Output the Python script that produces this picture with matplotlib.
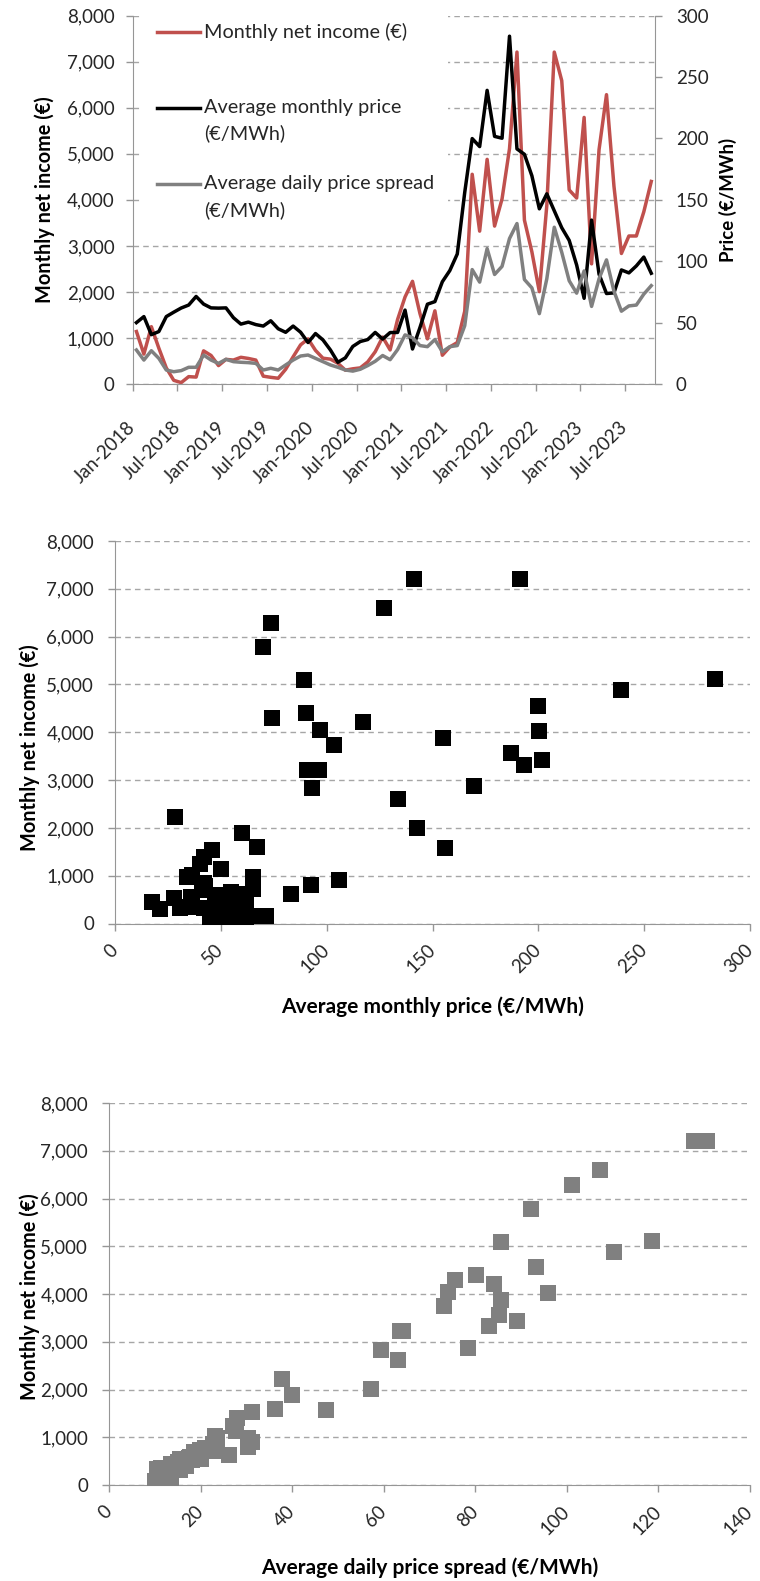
import numpy as np
import matplotlib
matplotlib.use("Agg")
import matplotlib.pyplot as plt
from matplotlib.lines import Line2D
from matplotlib.patches import Rectangle
from matplotlib.ticker import FuncFormatter

plt.rcParams['font.family'] = ['Lato', 'DejaVu Sans']

# Monthly series, Jan-2018 .. Oct-2023
price = [50.0, 54.9, 40.2, 42.7, 54.9, 58.5, 61.9, 64.3, 71.3, 65.1, 62.0, 61.8,
         62.0, 54.0, 48.8, 50.4, 48.4, 47.2, 51.5, 45.0, 42.1, 47.2, 42.2, 33.8,
         41.1, 35.9, 27.7, 17.7, 21.3, 30.6, 34.6, 36.2, 42.0, 36.6, 41.9, 42.0,
         60.2, 28.5, 46.0, 65.0, 67.1, 83.3, 92.4, 105.9, 156.1, 199.9, 193.4, 239.2,
         201.7, 200.2, 283.3, 191.5, 187.1, 169.6, 142.7, 154.9, 141.1, 127.3, 117.0, 96.9,
         69.8, 133.5, 89.5, 73.7, 74.2, 92.9, 90.5, 96.2, 103.4, 90.2]

income = [1140, 650, 1245, 780, 350, 80, 30, 160, 150, 720, 620, 400,
          535, 520, 580, 555, 520, 170, 145, 125, 320, 590, 850, 980,
          730, 560, 540, 450, 300, 330, 350, 480, 700, 1020, 740, 1400,
          1890, 2230, 1530, 980, 1590, 625, 805, 900, 1580, 4555, 3320, 4880,
          3430, 4020, 5110, 7210, 3560, 2870, 2005, 3880, 7210, 6590, 4215, 4040,
          5790, 2610, 5090, 6285, 4295, 2835, 3215, 3215, 3740, 4400]

spread = [27.7, 19.5, 27.1, 20.9, 11.4, 10.0, 10.9, 13.6, 13.6, 23.6, 19.5, 16.8,
          20.1, 18.2, 17.7, 17.4, 16.8, 11.4, 12.8, 11.4, 15.5, 19.5, 22.8, 23.6,
          20.9, 18.2, 15.5, 13.6, 11.4, 10.5, 12.0, 15.0, 18.5, 23.2, 19.8, 28.0,
          40.0, 37.7, 31.3, 30.4, 36.2, 26.3, 30.4, 31.3, 47.5, 93.2, 83.0, 110.3,
          89.2, 95.8, 118.5, 130.7, 85.1, 78.3, 57.3, 85.7, 127.7, 107.3, 84.1, 74.0,
          92.1, 63.2, 85.7, 101.1, 75.6, 59.3, 63.6, 64.3, 73.2, 80.1]

date_ticks = ['Jan-2018', 'Jul-2018', 'Jan-2019', 'Jul-2019', 'Jan-2020', 'Jul-2020',
              'Jan-2021', 'Jul-2021', 'Jan-2022', 'Jul-2022', 'Jan-2023', 'Jul-2023']

RED = '#C0504D'
GREY = '#808080'
AXC = '#969696'
GRIDC = '#A6A6A6'
TXT = '#262626'
FS = 13.5        # tick labels
FS_LEG = 14.3    # legend text
FS_LAB = 14.3    # axis titles

W, H = 760, 1581
fig = plt.figure(figsize=(W / 100, H / 100), dpi=100)


def box(l, t, r, b):
    return [l / W, 1 - b / H, (r - l) / W, (b - t) / H]


def fx(x, y):
    return x / W, 1 - y / H


thousands = FuncFormatter(lambda v, p: f'{int(round(v)):,}')


def style_axis(a, left=True, right=False):
    for s in ['top', 'right', 'left', 'bottom']:
        a.spines[s].set_visible(False)
    a.spines['bottom'].set_visible(True)
    a.spines['bottom'].set_color(AXC)
    if left:
        a.spines['left'].set_visible(True)
        a.spines['left'].set_color(AXC)
    if right:
        a.spines['right'].set_visible(True)
        a.spines['right'].set_color(AXC)


# ---------------- time series ----------------
months = np.arange(len(income)) + 0.5
ax = fig.add_axes(box(132.7, 15.7, 655, 384))
ax2 = ax.twinx()

ax.plot(months, income, color=RED, lw=2.5, zorder=2)
ax2.plot(months, price, color='black', lw=2.5, zorder=2)
ax2.plot(months, spread, color=GREY, lw=2.5, zorder=3)

ax.set_xlim(0, 70)
ax.set_ylim(0, 8000)
ax2.set_ylim(0, 300)
ax.set_yticks(np.arange(0, 8001, 1000))
ax2.set_yticks(np.arange(0, 301, 50))
ax.yaxis.set_major_formatter(thousands)
ax.set_xticks(np.arange(0, 70, 6))
ax.set_xticklabels(date_ticks, rotation=45, ha='right', va='center',
                   rotation_mode='anchor')
ax.grid(axis='y', color=GRIDC, ls=(0, (4, 3)), lw=1)
ax.set_axisbelow(True)

style_axis(ax)
style_axis(ax2, left=False, right=True)
ax2.spines['bottom'].set_visible(False)
ax.tick_params(axis='y', length=5, width=1, color=AXC, pad=8, labelsize=FS, labelcolor=TXT)
ax.tick_params(axis='x', length=5, width=1, color=AXC, pad=24, labelsize=FS, labelcolor=TXT)
ax2.tick_params(axis='y', length=5, width=1, color=AXC, pad=10, labelsize=FS, labelcolor=TXT)

ax.set_ylabel('Monthly net income (€)', fontsize=FS_LAB, fontweight='bold', va='center')
ax.yaxis.set_label_coords((45 - 132.7) / (655 - 132.7), 0.5)
ax2.set_ylabel('Price (€/MWh)', fontsize=13.4, fontweight='bold', va='center', rotation=90)
ax2.yaxis.set_label_coords((728 - 132.7) / (655 - 132.7), 0.5)

# legend panel on a white box covering the grid
ax.add_patch(Rectangle(fx(141, 222), (448 - 141) / W, (222 - 15.7) / H,
                       transform=fig.transFigure, facecolor='white',
                       edgecolor='none', zorder=1.8))
legend_items = [(RED, 31.5, ['Monthly net income (€)']),
                ('black', 107.5, ['Average monthly price', '(€/MWh)']),
                (GREY, 184, ['Average daily price spread', '(€/MWh)'])]
for col, yy, lines in legend_items:
    x0, y0 = fx(157, yy)
    x1, _ = fx(200, yy)
    ax2.add_line(Line2D([x0, x1], [y0, y0], color=col, lw=2.5,
                        transform=fig.transFigure, clip_on=False))
    for k, txt in enumerate(lines):
        tx, ty = fx(204, yy + 26 * k)
        ax2.text(tx, ty, txt, transform=fig.transFigure, fontsize=FS_LEG,
                 color=TXT, ha='left', va='center')


# ---------------- scatter panels ----------------
def scatter_panel(rect, xvals, color, xmax, xstep, xlabel, ylab_y):
    a = fig.add_axes(box(*rect))
    a.scatter(xvals, income, marker='s', s=128, color=color, linewidths=0, zorder=3)
    a.set_xlim(0, xmax)
    a.set_ylim(0, 8000)
    a.set_yticks(np.arange(0, 8001, 1000))
    a.yaxis.set_major_formatter(thousands)
    a.set_xticks(np.arange(0, xmax + 1, xstep))
    a.set_xticklabels([str(v) for v in np.arange(0, xmax + 1, xstep)], rotation=45,
                      ha='right', va='center', rotation_mode='anchor')
    a.grid(axis='y', color=GRIDC, ls=(0, (4, 3)), lw=1)
    a.set_axisbelow(True)
    style_axis(a)
    a.tick_params(axis='y', length=5, width=1, color=AXC, pad=10, labelsize=FS, labelcolor=TXT)
    a.tick_params(axis='x', length=5, width=1, color=AXC, pad=12, labelsize=FS, labelcolor=TXT)
    l, t, r, b = rect
    a.set_ylabel('Monthly net income (€)', fontsize=FS_LAB, fontweight='bold', va='center')
    a.yaxis.set_label_coords((30 - l) / (r - l), (b - ylab_y) / (b - t))
    a.set_xlabel(xlabel, fontsize=15, fontweight='bold', va='center')
    a.xaxis.set_label_coords(0.5, (b - (b + 83)) / (b - t))
    return a


scatter_panel((115, 541, 750, 923.5), price, 'black', 300, 50,
              'Average monthly price (€/MWh)', 748)
scatter_panel((109, 1103, 750, 1485), spread, GREY, 140, 20,
              'Average daily price spread (€/MWh)', 1297)

fig.savefig('out.png', dpi=100, facecolor='white')
